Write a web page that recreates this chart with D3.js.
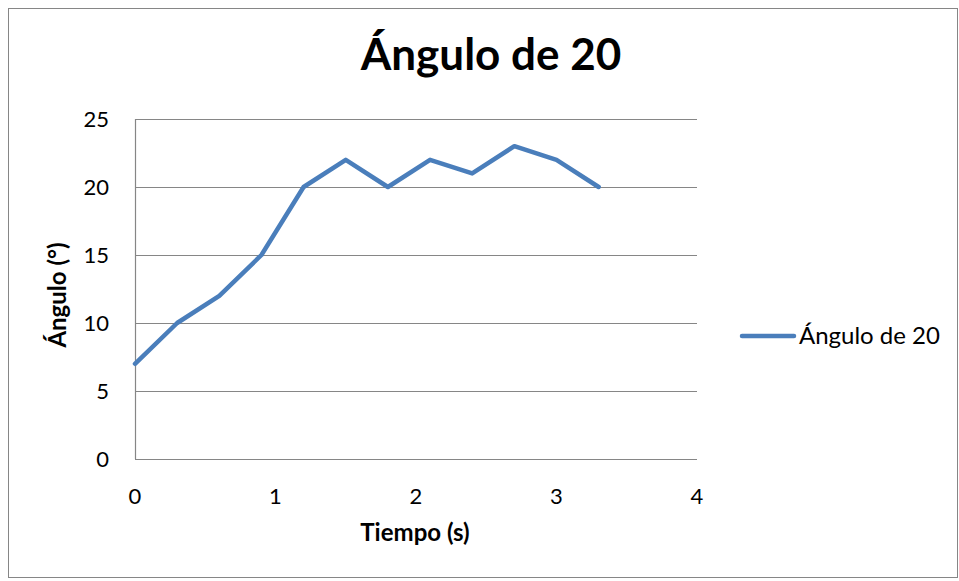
<!DOCTYPE html>
<html><head><meta charset="utf-8">
<script src="https://cdn.jsdelivr.net/npm/d3@7"></script>
<style>body{margin:0;background:#fff}svg{display:block}text{font-family:Lato,"Open Sans",sans-serif}</style>
</head><body>
<script>
const times = [0, 0.3, 0.6, 0.9, 1.2, 1.5, 1.8, 2.1, 2.4, 2.7, 3.0, 3.3];
const angles = [7, 10, 12, 15, 20, 22, 20, 22, 21, 23, 22, 20];
const xTicks = [0, 1, 2, 3, 4];
const yTicks = [0, 5, 10, 15, 20, 25];
const seriesName = "Ángulo de 20";
const title = "Ángulo de 20";
const xTitle = "Tiempo (s)";
const yTitle = "Ángulo (°)";

const W = 959, H = 581;
const svg = d3.select("body").append("svg").attr("width", W).attr("height", H);
svg.append("rect").attr("x", 8.5).attr("y", 8.5).attr("width", 949).attr("height", 569)
  .attr("fill", "#fff").attr("stroke", "#868686").attr("stroke-width", 1);

const x = d3.scaleLinear().domain([0, 4]).range([135, 697]);
const y = d3.scaleLinear().domain([0, 25]).range([459, 119]);

svg.append("g").selectAll("line").data(yTicks).join("line")
  .attr("x1", x(0)).attr("x2", x(4))
  .attr("y1", d => Math.round(y(d)) + 0.5).attr("y2", d => Math.round(y(d)) + 0.5)
  .attr("stroke", "#868686").attr("stroke-width", 1.2);
svg.append("line").attr("x1", x(0) + 0.5).attr("x2", x(0) + 0.5).attr("y1", y(25)).attr("y2", y(0))
  .attr("stroke", "#868686").attr("stroke-width", 1.2);

svg.append("g").selectAll("text").data(yTicks).join("text")
  .attr("x", 109).attr("y", d => y(d)).attr("dy", "0.36em").attr("text-anchor", "end")
  .attr("font-size", 22).attr("fill", "#000").text(d => d);
svg.append("g").selectAll("text").data(xTicks).join("text")
  .attr("x", d => x(d)).attr("y", 504).attr("text-anchor", "middle")
  .attr("font-size", 22).attr("fill", "#000").text(d => d);

const line = d3.line().x((d, i) => x(times[i])).y(d => y(d));
svg.append("path").datum(angles).attr("d", line).attr("fill", "none")
  .attr("stroke", "#4a7ebb").attr("stroke-width", 4.5).attr("stroke-linejoin", "round").attr("stroke-linecap", "round");

svg.append("text").attr("x", 491).attr("y", 70).attr("text-anchor", "middle")
  .attr("font-size", 44).attr("font-weight", "bold").text(title);
svg.append("text").attr("x", 415).attr("y", 541).attr("text-anchor", "middle")
  .attr("font-size", 24).attr("font-weight", "bold").text(xTitle);
svg.append("text").attr("transform", "translate(66,295) rotate(-90)").attr("text-anchor", "middle")
  .attr("font-size", 24).attr("font-weight", "bold").text(yTitle);

svg.append("line").attr("x1", 742).attr("x2", 794).attr("y1", 336).attr("y2", 336)
  .attr("stroke", "#4a7ebb").attr("stroke-width", 4.5).attr("stroke-linecap", "round");
svg.append("text").attr("x", 799).attr("y", 344).attr("font-size", 24).text(seriesName);
</script>
</body></html>
